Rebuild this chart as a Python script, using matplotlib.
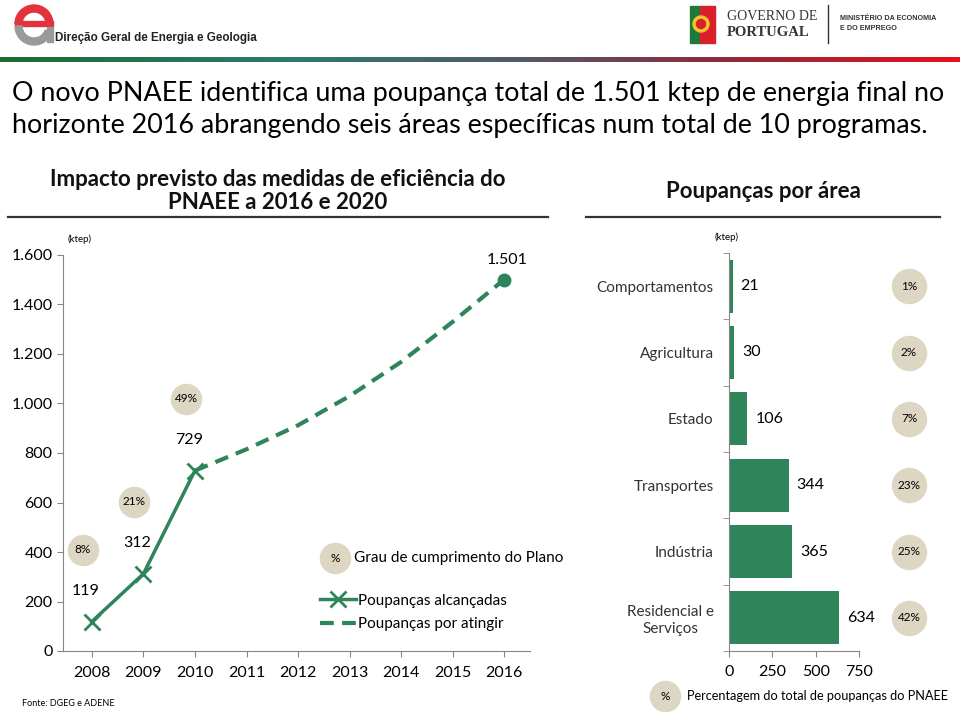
import numpy as np
import matplotlib
matplotlib.use('Agg')
import matplotlib.pyplot as plt
from matplotlib.patches import Wedge, Rectangle, Circle
from matplotlib.colors import LinearSegmentedColormap
from matplotlib.transforms import offset_copy

# ---- data ----
years = [2008, 2009, 2010, 2011, 2012, 2013, 2014, 2015, 2016]
achieved_years = [2008, 2009, 2010]
achieved = [119, 312, 729]
achieved_pct = ['8%', '21%', '49%']
target_years = [2010, 2011, 2012, 2013, 2014, 2015, 2016]
target = [729, 815, 912, 1030, 1168, 1330, 1501]
yticks_left = [0, 200, 400, 600, 800, 1000, 1200, 1400, 1600]

areas = ['Comportamentos', 'Agricultura', 'Estado', 'Transportes',
         'Indústria', 'Residencial e\nServiços']
area_savings = [21, 30, 106, 344, 365, 634]
area_pct = ['1%', '2%', '7%', '23%', '25%', '42%']
xticks_right = [0, 250, 500, 750]

GREEN = '#2e855a'
BEIGE = '#dcd6c3'
GREY = '#868686'
BODY = ['Lato', 'DejaVu Sans']

plt.rcParams['font.family'] = BODY

W, H = 960, 712
fig = plt.figure(figsize=(W / 100, H / 100), dpi=100)


def fx(x):
    return x / W


def fy(y):
    return 1 - y / H


def fmt(v):
    return f'{v:,}'.replace(',', '.')


# ---- background / header in pixel coordinates ----
bg = fig.add_axes([0, 0, 1, 1], zorder=-1)
bg.set_xlim(0, W)
bg.set_ylim(H, 0)
bg.axis('off')

grad = LinearSegmentedColormap.from_list(
    'hdr', [(0, '#1d6b2f'), (0.3, '#2b7a72'), (0.55, '#55586a'),
            (0.75, '#8c2a3a'), (1, '#e8101c')])
bg.imshow(np.linspace(0, 1, 256)[None, :], cmap=grad, aspect='auto',
          extent=(0, W, 62, 57))

# DGEG logo
bg.add_patch(Wedge((34, 24), 19, 180, 360, width=7, color='#e2323c'))
bg.add_patch(Rectangle((15, 21), 38, 5, color='#e2323c'))
bg.add_patch(Wedge((34, 26), 19, 20, 180, width=7, color='#9a9a9a'))
bg.add_patch(Rectangle((47, 27), 6, 15, color='#9a9a9a'))
bg.text(55, 38, 'Direção Geral de Energia e Geologia', fontsize=8.4,
        fontweight='bold', va='center', ha='left', color='#222222',
        family=['Liberation Sans', 'DejaVu Sans'])

# Governo logo
bg.add_patch(Rectangle((690, 6), 10, 37, color='#1f7a3a'))
bg.add_patch(Rectangle((700, 6), 15, 37, color='#d8202a'))
bg.add_patch(Circle((701, 24), 8, color='#f2c230'))
bg.add_patch(Circle((701, 24), 4.5, color='#d8202a'))
bg.text(727, 17, 'GOVERNO DE', fontsize=10, va='center', ha='left',
        color='#333333', family=['Liberation Serif', 'DejaVu Serif'])
bg.text(727, 32, 'PORTUGAL', fontsize=10.5, fontweight='bold', va='center',
        ha='left', color='#333333', family=['Liberation Serif', 'DejaVu Serif'])
bg.plot([828, 828], [5, 43], color='#333333', lw=1)
bg.text(840, 18, 'MINISTÉRIO DA ECONOMIA', fontsize=5.2, fontweight='bold',
        va='center', ha='left', color='#333333',
        family=['Liberation Sans', 'DejaVu Sans'])
bg.text(840, 28, 'E DO EMPREGO', fontsize=5.2, fontweight='bold',
        va='center', ha='left', color='#333333',
        family=['Liberation Sans', 'DejaVu Sans'])

# headline
bg.text(12, 93, 'O novo PNAEE identifica uma poupança total de 1.501 ktep de energia final no',
        fontsize=19.4, va='center', ha='left', color='black')
bg.text(12, 126, 'horizonte 2016 abrangendo seis áreas específicas num total de 10 programas.',
        fontsize=19.4, va='center', ha='left', color='black')

# chart titles
bg.text(278, 191, 'Impacto previsto das medidas de eficiência do\nPNAEE a 2016 e 2020',
        fontsize=16, fontweight='bold', ha='center', va='center',
        linespacing=1.1, color='#111111')
bg.text(763, 191, 'Poupanças por área', fontsize=16, fontweight='bold',
        ha='center', va='center', color='#111111')
bg.plot([8, 548], [217, 217], color='#333333', lw=1.6)
bg.plot([586, 940], [217, 217], color='#333333', lw=1.6)

bg.text(22, 704, 'Fonte: DGEG e ADENE', fontsize=6.5, va='center', ha='left')

# ---- left chart ----
ax1 = fig.add_axes([fx(63), fy(651), (530 - 63) / W, (651 - 255) / H])
ax1.set_xlim(2007.44, 2016.5)
ax1.set_ylim(0, 1600)
for s in ['top', 'right']:
    ax1.spines[s].set_visible(False)
for s in ['left', 'bottom']:
    ax1.spines[s].set_color(GREY)
ax1.set_xticks(years)
ax1.set_yticks(yticks_left)
ax1.set_yticklabels([fmt(v) for v in yticks_left])
ax1.tick_params(colors=GREY, labelcolor='black', labelsize=11.5, length=4)
ax1.tick_params(axis='x', pad=7)
ax1.patch.set_alpha(0)

line_ach, = ax1.plot(achieved_years, achieved, color=GREEN, lw=2.5,
                     marker='x', markersize=11, markeredgewidth=2,
                     label='Poupanças alcançadas', zorder=3)
line_tgt, = ax1.plot(target_years, target, color=GREEN, lw=3,
                     dashes=(3.3, 2.0), label='Poupanças por atingir', zorder=2)
ax1.plot(target_years[-1], target[-1], 'o', color=GREEN, markersize=9,
         clip_on=False, zorder=4)

for yr, v, p in zip(achieved_years, achieved, achieved_pct):
    ax1.annotate(fmt(v), (yr, v), xytext=(-6, 31), textcoords='offset pixels',
                 ha='center', va='center', fontsize=11.5)
    tr = offset_copy(ax1.transData, fig=fig, x=-9, y=72, units='dots')
    ax1.scatter([yr], [v], s=470, color=BEIGE, transform=tr, clip_on=False,
                zorder=1)
    ax1.text(yr, v, p, transform=tr, ha='center', va='center', fontsize=8.5)
ax1.annotate(fmt(target[-1]), (target_years[-1], target[-1]), xytext=(3, 20),
             textcoords='offset pixels', ha='center', va='center', fontsize=11.5)
ax1.text(0.01, 1.04, '(ktep)', transform=ax1.transAxes, fontsize=7,
         ha='left', va='center')

# legend of left chart
bg.scatter([335], [558], s=470, color=BEIGE)
bg.text(335, 558, '%', fontsize=8.5, ha='center', va='center')
bg.text(354, 558, 'Grau de cumprimento do Plano', fontsize=11,
        ha='left', va='center')
fig.legend(handles=[line_ach, line_tgt], loc='upper left',
           bbox_to_anchor=(fx(306), fy(580)), frameon=False, fontsize=11,
           handlelength=2.4, handletextpad=0.12, labelspacing=0.6)

# ---- right chart ----
ax2 = fig.add_axes([fx(729), fy(651), (859 - 729) / W, (651 - 253) / H])
ypos = np.arange(len(areas))
ax2.barh(ypos, area_savings, height=0.8, color=GREEN)
ax2.set_xlim(0, 750)
ax2.set_ylim(len(areas) - 0.5, -0.5)
for s in ['top', 'right']:
    ax2.spines[s].set_visible(False)
for s in ['left', 'bottom']:
    ax2.spines[s].set_color(GREY)
ax2.set_xticks(xticks_right)
ax2.set_yticks(ypos)
ax2.set_yticklabels(areas)
ax2.set_yticks(np.arange(len(areas) + 1) - 0.5, minor=True)
ax2.tick_params(axis='y', which='major', length=0, pad=11, labelsize=11,
                colors='#333333')
ax2.tick_params(axis='y', which='minor', length=4, color=GREY)
ax2.tick_params(axis='x', length=4, color=GREY, labelsize=11.5, pad=6)
for lab in ax2.get_yticklabels():
    lab.set_multialignment('center')
ax2.patch.set_alpha(0)

for y, v, p in zip(ypos, area_savings, area_pct):
    ax2.annotate(str(v), (v, y), xytext=(8, 0), textcoords='offset pixels',
                 ha='left', va='center', fontsize=11.5)
    ax2.scatter([1.385], [y], s=600, color=BEIGE,
                transform=ax2.get_yaxis_transform(), clip_on=False)
    ax2.text(1.385, y, p, transform=ax2.get_yaxis_transform(), ha='center',
             va='center', fontsize=8.5)
ax2.text(-0.02, 1.04, '(ktep)', transform=ax2.transAxes, fontsize=7,
         ha='center', va='center')

bg.scatter([665], [696], s=470, color=BEIGE)
bg.text(665, 696, '%', fontsize=8.5, ha='center', va='center')
bg.text(687, 696, 'Percentagem do total de poupanças do PNAEE', fontsize=9.2,
        ha='left', va='center')

fig.savefig('out.png', dpi=100)
